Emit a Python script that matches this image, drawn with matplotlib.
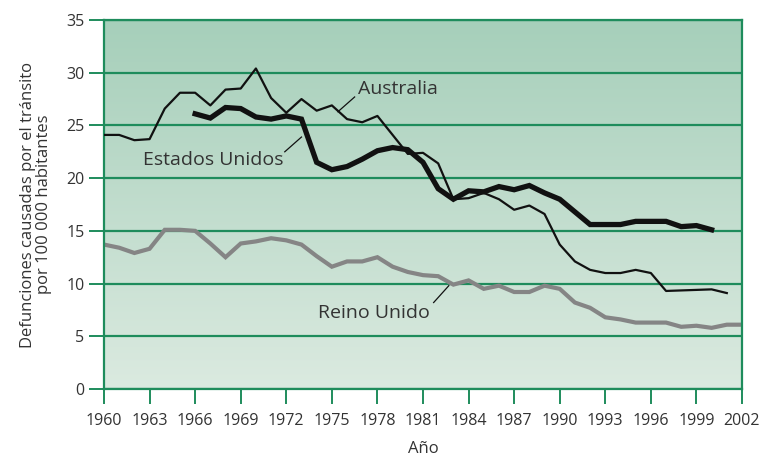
import numpy as np
import matplotlib.pyplot as plt
from matplotlib.colors import LinearSegmentedColormap

plt.rcParams['font.family'] = ['Open Sans', 'DejaVu Sans']

# datos
years_au = list(range(1960, 2002))
australia = [24.1, 24.1, 23.6, 23.7, 26.6, 28.1, 28.1, 26.9, 28.4, 28.5,
             30.4, 27.6, 26.2, 27.5, 26.4, 26.9, 25.6, 25.3, 25.9, 24.1,
             22.3, 22.4, 21.4, 18.0, 18.1, 18.6, 18.0, 17.0, 17.4, 16.6,
             13.7, 12.1, 11.3, 11.0, 11.0, 11.3, 11.0, 9.3, 9.35, 9.4,
             9.45, 9.1]

years_us = list(range(1966, 2001))
estados_unidos = [26.1, 25.7, 26.7, 26.6, 25.8, 25.6, 25.9, 25.6, 21.5, 20.8,
                  21.1, 21.8, 22.6, 22.9, 22.7, 21.5, 19.0, 18.0, 18.8, 18.7,
                  19.2, 18.9, 19.3, 18.6, 18.0, 16.8, 15.6, 15.6, 15.6, 15.9,
                  15.9, 15.9, 15.4, 15.5, 15.1]

years_uk = list(range(1960, 2003))
reino_unido = [13.7, 13.4, 12.9, 13.3, 15.1, 15.1, 15.0, 13.8, 12.5, 13.8,
               14.0, 14.3, 14.1, 13.7, 12.6, 11.6, 12.1, 12.1, 12.5, 11.6,
               11.1, 10.8, 10.7, 9.9, 10.3, 9.5, 9.8, 9.2, 9.2, 9.8,
               9.5, 8.2, 7.7, 6.8, 6.6, 6.3, 6.3, 6.3, 5.9, 6.0,
               5.8, 6.1, 6.1]

x_ticks = list(range(1960, 2003, 3))
y_ticks = list(range(0, 36, 5))

green = '#1e8c5c'
text_col = '#333333'

fig = plt.figure(figsize=(7.59, 4.58), dpi=100)
ax = fig.add_axes([104 / 759, 69 / 458, 638 / 759, 369 / 458])

# fondo degradado verde
cmap = LinearSegmentedColormap.from_list('bg', ['#dbeae0', '#a6cfba'])
grad = np.linspace(0, 1, 256).reshape(-1, 1)
ax.imshow(grad, cmap=cmap, origin='lower', aspect='auto',
          extent=[1960, 2002, 0, 35], zorder=0)

for y in y_ticks:
    ax.axhline(y, color=green, lw=1.6, zorder=1)

ax.plot(years_uk, reino_unido, color='#858585', lw=3.0, zorder=2,
        solid_joinstyle='miter')
ax.plot(years_au, australia, color='#111111', lw=1.6, zorder=3)
ax.plot(years_us, estados_unidos, color='#111111', lw=3.8, zorder=4,
        solid_joinstyle='miter')

ax.set_xlim(1960, 2002)
ax.set_ylim(0, 35)
ax.set_xticks(x_ticks)
ax.set_yticks(y_ticks)
ax.tick_params(axis='both', colors=green, length=11, width=1.4,
               labelcolor=text_col, labelsize=11.5)
ax.tick_params(axis='x', pad=6)
ax.tick_params(axis='y', pad=3)
for s in ax.spines.values():
    s.set_color(green)
    s.set_linewidth(1.6)

ax.set_xlabel('Año', fontsize=12, color=text_col, labelpad=9)
ax.set_ylabel('Defunciones causadas por el tránsito\npor 100 000 habitantes',
              fontsize=12, color=text_col, labelpad=10, linespacing=1.05)

# etiquetas de las series
ax.text(1976.7, 28.5, 'Australia', fontsize=14, color=text_col, va='center')
ax.plot([1975.4, 1976.5], [26.3, 27.7], color='#111111', lw=0.9, zorder=5)
ax.text(1962.6, 21.7, 'Estados Unidos', fontsize=14, color=text_col, va='center')
ax.plot([1971.9, 1973.0], [22.5, 23.9], color='#111111', lw=0.9, zorder=5)
ax.text(1974.1, 7.2, 'Reino Unido', fontsize=14, color=text_col, va='center')
ax.plot([1981.7, 1982.7], [8.2, 9.8], color='#111111', lw=0.9, zorder=5)

fig.savefig('out.png', dpi=100)
